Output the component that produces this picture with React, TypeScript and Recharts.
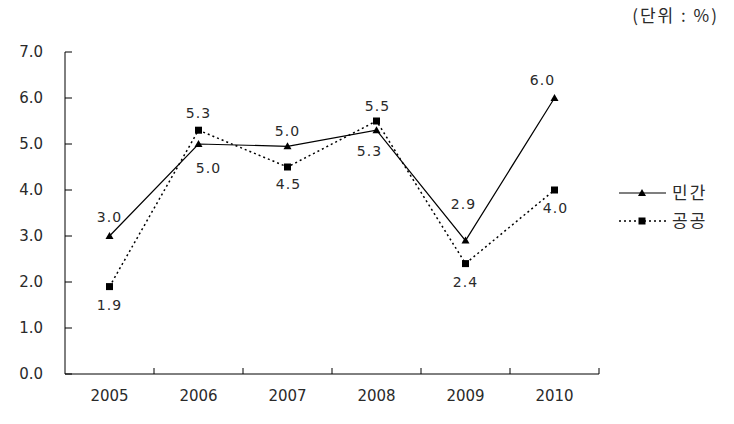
import React from 'react';
import { LineChart, Line, XAxis, YAxis, Legend } from 'recharts';

const years = ['2005', '2006', '2007', '2008', '2009', '2010'];
const privateValues = [3.0, 5.0, 4.95, 5.3, 2.9, 6.0];
const publicValues = [1.9, 5.3, 4.5, 5.5, 2.4, 4.0];
const yTicks = [0, 1, 2, 3, 4, 5, 6, 7];
const seriesNames = ['민간', '공공'];
const unitLabel = '(단위 : %)';

// label placement (dx, dy of text centre from the marker), styling only
const privateLabelOffsets = [[0, -19], [10, 24], [0, -15], [-7, 21], [-2, -37], [-12, -18]];
const publicLabelOffsets = [[0, 18], [0, -17], [1, 17], [1, -15], [0, 18], [1, 18]];

const data = years.map((y, i) => ({ year: y, private: privateValues[i], public: publicValues[i] }));

const FONT = '"DejaVu Sans", Verdana, sans-serif';
const KFONT = '"Noto Sans CJK KR", sans-serif';
const TEXT = '#2a2a2a';

const YTick = (props: any) => {
  const { x, y, payload } = props;
  const axisX = x + 22;
  return (
    <g>
      <line x1={axisX} x2={axisX + 7} y1={y} y2={y} stroke="#000" strokeWidth={1} />
      <text x={x} y={y + 5} textAnchor="end" fontFamily={FONT} fontSize={15} fill={TEXT}>
        {Number(payload.value).toFixed(1)}
      </text>
    </g>
  );
};

const XTick = (props: any) => {
  const { x, y, payload } = props;
  const off = typeof payload.offset === 'number' && payload.offset > 0 ? payload.offset : 44.5;
  return (
    <g>
      <line x1={x + off} x2={x + off} y1={y} y2={y - 6} stroke="#000" strokeWidth={1} />
      <text x={x} y={y + 27} textAnchor="middle" fontFamily={FONT} fontSize={15} fill={TEXT}>
        {payload.value}
      </text>
    </g>
  );
};

const TriangleDot = (props: any) => {
  const { cx, cy, index } = props;
  if (cx == null || cy == null) return <g key={index} />;
  return <polygon key={index} points={`${cx},${cy - 4} ${cx - 4},${cy + 3} ${cx + 4},${cy + 3}`} fill="#000" />;
};

const SquareDot = (props: any) => {
  const { cx, cy, index } = props;
  if (cx == null || cy == null) return <g key={index} />;
  return <rect key={index} x={cx - 3.5} y={cy - 3.5} width={7} height={7} fill="#000" />;
};

const makeLabel = (offsets: number[][]) => (props: any) => {
  const { x, y, value, index } = props;
  const o = offsets[index] || [0, -15];
  return (
    <text
      key={index}
      x={x + o[0]}
      y={y + o[1] + 5}
      textAnchor="middle"
      fontFamily={FONT}
      fontSize={14}
      letterSpacing={1}
      fill={TEXT}
    >
      {Number(value).toFixed(1)}
    </text>
  );
};

const LegendContent = () => (
  <svg width={110} height={50} style={{ overflow: 'visible' }}>
    <line x1={4} x2={51} y1={13} y2={13} stroke="#000" strokeWidth={1.2} />
    <polygon points={`27,9 23,16 31,16`} fill="#000" />
    <text x={57} y={19} fontFamily={KFONT} fontSize={17} letterSpacing={2} fill={TEXT}>
      {seriesNames[0]}
    </text>
    <line x1={4} x2={51} y1={41} y2={41} stroke="#000" strokeWidth={1.5} strokeDasharray="2 3" />
    <rect x={23.5} y={37.5} width={7} height={7} fill="#000" />
    <text x={57} y={47} fontFamily={KFONT} fontSize={17} letterSpacing={2} fill={TEXT}>
      {seriesNames[1]}
    </text>
  </svg>
);

export default function App() {
  return (
    <div style={{ position: 'absolute', left: 0, top: 0, width: 734, height: 424, background: '#fff' }}>
      <div
        style={{
          position: 'absolute',
          right: 15,
          top: 2,
          fontFamily: KFONT,
          fontSize: 17,
          letterSpacing: 2,
          color: TEXT,
          whiteSpace: 'nowrap',
        }}
      >
        {unitLabel}
      </div>
      <LineChart
        width={734}
        height={424}
        data={data}
        margin={{ top: 52, right: 135, bottom: 0, left: 0 }}
      >
        <XAxis
          dataKey="year"
          scale="band"
          height={50}
          tickSize={0}
          tickMargin={0}
          tickLine={false}
          axisLine={{ stroke: '#000', strokeWidth: 1 }}
          tick={<XTick />}
          interval={0}
        />
        <YAxis
          width={65}
          domain={[0, 7]}
          ticks={yTicks}
          tickSize={0}
          tickMargin={22}
          tickLine={false}
          axisLine={{ stroke: '#000', strokeWidth: 1 }}
          tick={<YTick />}
          interval={0}
        />
        <Legend
          layout="horizontal"
          verticalAlign="middle"
          align="center"
          content={<LegendContent />}
          wrapperStyle={{ left: 615, top: 180, width: 110, height: 50 }}
        />
        <Line
          name={seriesNames[0]}
          dataKey="private"
          stroke="#000"
          strokeWidth={1.2}
          dot={<TriangleDot />}
          activeDot={false}
          label={makeLabel(privateLabelOffsets)}
          isAnimationActive={false}
        />
        <Line
          name={seriesNames[1]}
          dataKey="public"
          stroke="#000"
          strokeWidth={1.5}
          strokeDasharray="2 3"
          dot={<SquareDot />}
          activeDot={false}
          label={makeLabel(publicLabelOffsets)}
          isAnimationActive={false}
        />
      </LineChart>
    </div>
  );
}
